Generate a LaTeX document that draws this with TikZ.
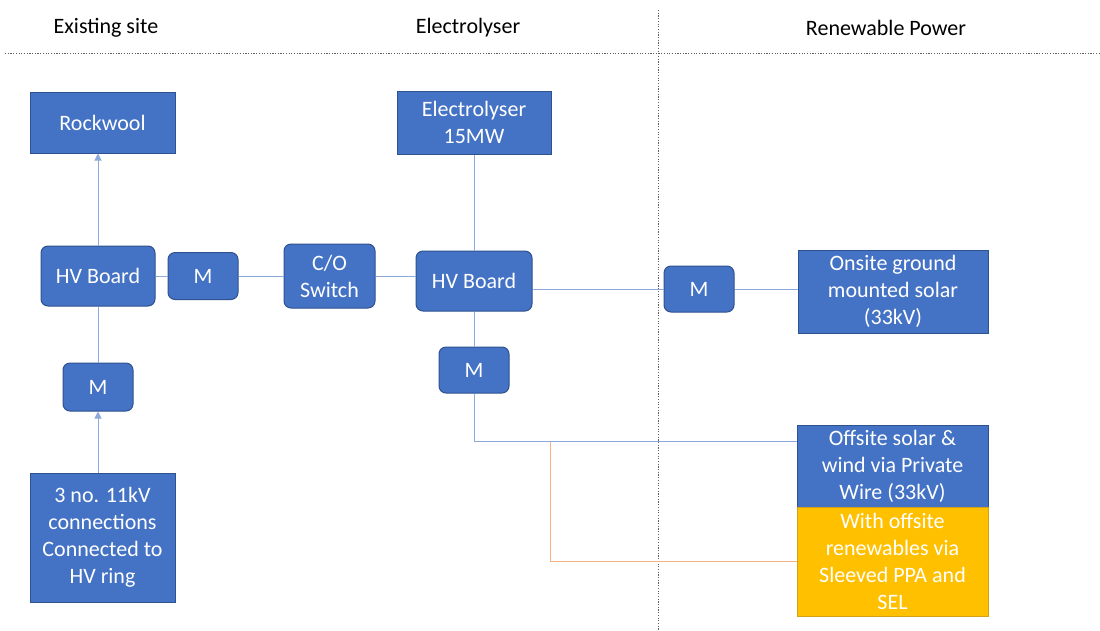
\documentclass[tikz,border=0pt]{standalone}
\usepackage{fontspec}
\setmainfont{Carlito}
\usetikzlibrary{arrows.meta}
\definecolor{boxblue}{HTML}{4472C4}
\definecolor{boxedge}{HTML}{2F528F}
\definecolor{boxyellow}{HTML}{FFC000}
\definecolor{yedge}{HTML}{D4A017}
\definecolor{connblue}{HTML}{8EA9DB}
\definecolor{connorange}{HTML}{F4B183}
\definecolor{sepgray}{HTML}{606060}
\tikzset{
  every node/.style={font=\fontsize{22}{27}\selectfont, inner sep=0pt},
  sqbox/.style={draw=boxedge, line width=1pt, fill=boxblue, text=white, align=center},
  rbox/.style={sqbox, rounded corners=7pt},
  ybox/.style={draw=yedge, line width=1pt, fill=boxyellow, text=white, align=center},
  conn/.style={draw=connblue, line width=1pt},
  oconn/.style={draw=connorange, line width=1pt},
  tip/.style={-{Triangle[length=7pt,width=7pt]}},
  sep/.style={draw=sepgray, line width=0.8pt, dash pattern=on 1.2pt off 1.5pt},
  header/.style={text=black, font=\fontsize{22}{27}\selectfont}
}
\begin{document}
\begin{tikzpicture}[x=1pt,y=-1pt]
\useasboundingbox (0,0) rectangle (1100,630);
\fill[white] (0,0) rectangle (1100,630);

% headers
\node[header] (h1) at (106,28) {Existing site};
\node[header] (h2) at (468,28) {Electrolyser};
\node[header] (h3) at (886,28) {Renewable Power};

% separators
\coordinate (s1) at (5,53);
\coordinate (s2) at (1100,53);
\coordinate (s3) at (658,10);
\coordinate (s4) at (658,630);
\draw[sep] (s1) -- (s2);
\draw[sep] (s3) -- (s4);

% boxes
\node[sqbox, minimum width=145pt, minimum height=61pt] (rock) at (102.5,122.5) {Rockwool};
\node[rbox, minimum width=114pt, minimum height=60pt] (hvl) at (98,276) {HV Board};
\node[rbox, minimum width=70pt, minimum height=47pt] (ml) at (203,276) {M};
\node[rbox, minimum width=91pt, minimum height=64pt] (co) at (329.5,276) {C/O\\Switch};
\node[sqbox, minimum width=154pt, minimum height=63pt] (elec) at (474,122.5) {Electrolyser\\15MW};
\node[rbox, minimum width=116pt, minimum height=60pt] (hvc) at (474,281) {HV Board};
\node[rbox, minimum width=70pt, minimum height=46pt] (mc) at (474,370) {M};
\node[rbox, minimum width=70pt, minimum height=46pt] (mr) at (699,289) {M};
\node[sqbox, minimum width=190pt, minimum height=83pt] (onsite) at (893,291.5) {Onsite ground\\mounted solar\\(33kV)};
\node[sqbox, minimum width=191pt, minimum height=82pt] (offsite) at (892.5,466) {Offsite solar \&\\wind via Private\\Wire (33kV)};
\node[ybox, minimum width=191pt, minimum height=109pt] (sel) at (892.5,561.5) {With offsite\\renewables via\\Sleeved PPA and\\SEL};
\node[rbox, minimum width=70pt, minimum height=48pt] (ml3) at (98,387) {M};
\node[sqbox, minimum width=145pt, minimum height=129pt] (three) at (102.5,537.5) {3 no. 11kV\\connections\\Connected to\\HV ring};

% connectors
\draw[conn, tip] (hvl.north) -- (hvl.north |- rock.south);
\draw[conn] (ml3.north) -- (hvl.south);
\draw[conn, tip] (three.north -| ml3) -- (ml3.south);
\draw[conn] (hvl.east) -- (ml.west);
\draw[conn] (ml.east) -- (co.west);
\draw[conn] (co.east) -- (co.east -| hvc.west);
\draw[conn] (elec.south) -- (hvc.north);
\draw[conn] (hvc.south) -- (mc.north);
\draw[conn] (mr.west -| hvc.east) -- (mr.west);
\draw[conn] (mr.east) -- (mr.east -| onsite.west);
\coordinate (j1) at (474,441);
\draw[conn] (mc.south) -- (j1) -- (j1 -| offsite.west);
\coordinate (j2) at (550,442);
\draw[oconn] (j2) |- (sel.west);
\end{tikzpicture}
\end{document}
